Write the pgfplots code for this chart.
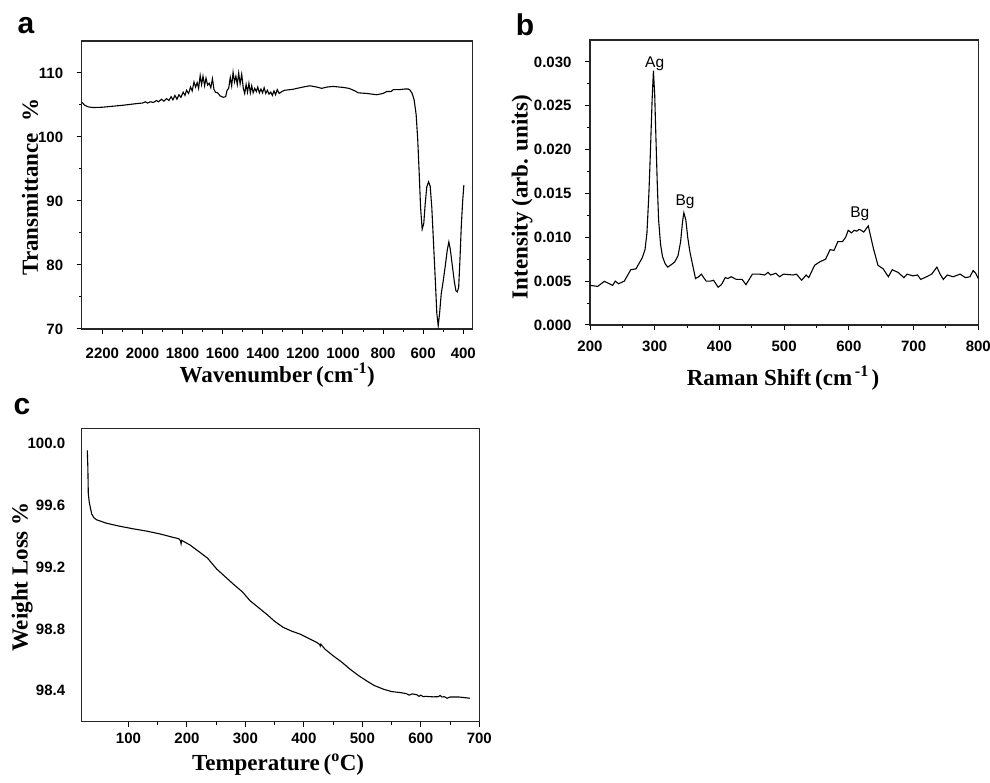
\documentclass[border=0pt]{standalone}
\usepackage{fontspec}
\setmainfont{Liberation Sans}
\newfontfamily\timesf{Liberation Serif}
\usepackage{pgfplots}
\pgfplotsset{compat=1.18}

\pgfplotsset{
  myaxis/.style={
    scale only axis,
    axis line style={line width=1.2pt, black!85},
    every tick/.style={line width=1pt, black},
    tick align=outside,
    xtick pos=bottom, ytick pos=left,
    major tick length=5pt, minor tick length=3pt,
    every tick label/.append style={font=\fontsize{15}{15}\selectfont\bfseries},
    /pgf/number format/assume math mode=true,
    /pgf/number format/1000 sep={},
    every axis label/.append style={font=\timesf\fontsize{23}{23}\selectfont\bfseries},
    every axis y label/.style={rotate=90, anchor=center},
    every axis x label/.style={anchor=center},
    clip=true,
  },
}

\begin{document}
\begin{tikzpicture}
\path[use as bounding box] (0pt,0pt) rectangle (990pt,783pt);

% ---------------- panel a ----------------
\begin{axis}[myaxis,
  at={(81.7pt,454pt)}, anchor=south west,
  width=391pt, height=288pt,
  x dir=reverse,
  xmin=353, xmax=2303, ymin=70, ymax=115,
  xtick={400,600,...,2200}, minor x tick num=1,
  ytick={70,80,...,110}, minor y tick num=1,
  xticklabel style={anchor=center, yshift=-19pt},
  yticklabel style={anchor=east, xshift=-10pt},
  xlabel={Wavenumber\,(cm\textsuperscript{-1})},
  ylabel={Transmittance\ \ \%},
  xlabel style={at={(axis description cs:0.5,-0.16)}},
  ylabel style={at={(axis description cs:-0.132,0.493)}},
]
\addplot[black, line width=1.1pt] table {
x y
2300 105.4
2290 105.0
2270 104.7
2245 104.6
2200 104.65
2150 104.8
2100 104.95
2060 105.1
2020 105.25
2000 105.3
1985 105.5
1975 105.3
1960 105.5
1945 105.4
1930 105.7
1920 105.5
1905 105.9
1893 105.6
1880 106.0
1868 105.7
1857 106.3
1848 105.8
1838 106.5
1828 105.9
1818 106.6
1808 106.2
1797 107.0
1788 106.5
1780 107.3
1770 106.8
1760 107.8
1752 107.2
1743 108.6
1735 107.8
1727 108.5
1720 107.6
1712 109.6
1705 108.2
1698 109.5
1690 108.0
1683 109.2
1675 108.1
1667 108.4
1659 107.7
1651 109.1
1643 107.4
1636 107.0
1625 106.9
1612 106.4
1597 106.2
1585 106.3
1578 107.3
1570 107.6
1562 109.3
1555 108.0
1548 110.1
1541 108.6
1534 109.5
1527 108.2
1520 110.0
1513 108.3
1505 109.8
1497 107.6
1490 106.8
1483 108.2
1476 107.0
1469 108.4
1462 106.9
1455 108.0
1448 106.9
1440 107.6
1432 107.1
1425 107.8
1417 106.9
1409 107.5
1401 106.9
1393 107.7
1385 106.8
1377 107.3
1369 106.7
1360 107.0
1352 106.5
1344 107.2
1336 106.6
1328 107.4
1318 106.8
1305 107.1
1290 107.3
1250 107.45
1200 107.8
1165 108.0
1130 107.8
1106 107.6
1080 107.8
1050 107.9
1000 107.75
970 107.6
940 107.2
924 106.9
880 106.8
832 106.6
800 106.8
782 107.1
760 107.1
749 107.4
720 107.4
690 107.5
674 107.5
665 107.3
655 106.8
645 105.8
635 103.5
627 99.5
620 94.5
613 89.0
605 85.6
597 86.5
590 89.5
582 92.2
573 93.0
565 92.3
557 89.0
550 84.5
540 78.0
532 72.5
525 70.5
518 72.5
510 75.5
500 77.5
490 79.8
480 82.3
472 83.6
465 82.5
455 80.0
445 77.5
437 76.0
430 75.8
423 76.5
417 80.5
410 86.0
403 90.0
397 92.5
};
\end{axis}

% ---------------- panel b ----------------
\begin{axis}[myaxis,
  at={(590pt,458pt)}, anchor=south west,
  width=388.3pt, height=285pt,
  xmin=200, xmax=800, ymin=0, ymax=0.0325,
  xtick={200,300,...,800}, minor x tick num=1,
  ytick={0,0.005,...,0.0301}, minor y tick num=1,
  yticklabel style={anchor=east, xshift=-10pt, /pgf/number format/.cd, fixed, fixed zerofill, precision=3},
  xticklabel style={anchor=center, yshift=-16pt},
  scaled y ticks=false,
  xlabel={Raman Shift\,(cm\textsuperscript{\,-1\,})},
  ylabel={Intensity (arb. units)},
  xlabel style={at={(axis description cs:0.497,-0.186)}},
  ylabel style={at={(axis description cs:-0.175,0.449)}},
]
\addplot[black, line width=1.1pt] table {
x y
200 0.00452
212 0.0044
222 0.00498
230 0.0047
235 0.00452
239 0.0050
244 0.0047
253 0.0050
263 0.0063
271 0.0064
281 0.0077
285 0.0086
288 0.0105
291 0.0150
293 0.0190
296 0.0257
298 0.0290
300 0.0262
302 0.0210
304 0.0160
306 0.0120
309 0.0092
312 0.0078
316 0.0070
320 0.0066
326 0.0069
331 0.0072
336 0.0079
340 0.0095
343 0.0118
345 0.0128
348 0.0120
351 0.0100
354 0.0085
357 0.0074
363 0.0053
368 0.0055
372 0.0058
379.5 0.0050
386 0.0050
391 0.0051
398 0.0043
403 0.0046
409 0.0054
413 0.0053
418 0.0055
426 0.0052
435 0.0052
441 0.0046
451 0.0058
462 0.0058
470 0.0057
475 0.0060
479 0.0057
483 0.0058
487 0.0059
493 0.0055
499 0.0058
514 0.0057
519 0.0058
527 0.0051
534 0.0057
538 0.0054
547 0.0068
555 0.0072
564 0.0075
571 0.0086
577 0.0085
583 0.0095
590 0.0095
595 0.0100
599 0.0108
604 0.0105
608 0.0108
612 0.0107
616 0.0109
619 0.0108
623 0.0106
630 0.0113
634 0.0100
638 0.0087
645 0.0068
653 0.0064
661 0.0055
667 0.0063
676 0.0060
685 0.0054
690 0.0058
699 0.0056
706 0.0057
711 0.0052
720 0.0055
728 0.0058
736 0.0066
741 0.0058
746 0.0052
752 0.0057
761 0.0055
772 0.0058
780 0.0054
787 0.0055
792 0.0062
796 0.0059
800 0.0053
};
\node[font=\fontsize{15.5}{15.5}\selectfont] at (axis cs:300,0.0298) {Ag};
\node[font=\fontsize{15.5}{15.5}\selectfont] at (axis cs:347,0.0141) {Bg};
\node[font=\fontsize{15.5}{15.5}\selectfont] at (axis cs:617,0.0127) {Bg};
\end{axis}

% ---------------- panel c ----------------
\begin{axis}[myaxis,
  at={(81.7pt,61.3pt)}, anchor=south west,
  width=397.6pt, height=293.4pt,
  xmin=20, xmax=700, ymin=98.2, ymax=100.1,
  xtick={100,200,...,700}, minor x tick num=1,
  ytick={98.4,98.8,99.2,99.6,100.0},
  ytick style={draw=none},
  yticklabel style={anchor=east, xshift=-8pt, /pgf/number format/.cd, fixed, fixed zerofill, precision=1},
  xticklabel style={anchor=center, yshift=-12pt},
  xlabel={Temperature\,(\textsuperscript{o}C)},
  ylabel={Weight Loss \%},
  xlabel style={at={(axis description cs:0.494,-0.145)}},
  ylabel style={at={(axis description cs:-0.150,0.493)}},
]
\addplot[black, line width=1.1pt] table {
x y
29.6 99.957
30.5 99.85
31.3 99.676
33 99.62
37 99.546
41 99.52
45.6 99.507
55 99.495
62.7 99.485
80 99.47
90 99.462
100 99.455
108 99.449
130 99.435
153.8 99.416
175 99.395
186 99.385
189 99.372
190 99.352
191 99.374
205 99.345
222 99.297
235 99.26
250.8 99.189
265 99.14
279 99.092
295 99.04
307.7 98.984
322 98.94
336 98.897
350 98.85
364.6 98.811
380 98.785
393 98.768
408 98.74
421.7 98.714
427 98.700
428 98.690
429 98.702
436 98.67
450 98.627
465 98.585
478.6 98.541
493 98.50
507 98.465
520 98.435
535.6 98.411
550 98.395
564 98.389
575 98.382
580 98.372
585 98.380
593 98.375
597 98.364
600 98.372
604 98.362
608 98.364
621 98.361
630 98.362
633 98.370
636 98.360
640 98.362
645 98.352
650 98.360
665 98.360
683.8 98.352
};
\end{axis}

% panel letters
\node[font=\fontsize{30}{30}\selectfont\bfseries] at (26pt,757pt) {a};
\node[font=\fontsize{30}{30}\selectfont\bfseries] at (525pt,758pt) {b};
\node[font=\fontsize{30}{30}\selectfont\bfseries] at (22pt,376pt) {c};
\end{tikzpicture}
\end{document}
